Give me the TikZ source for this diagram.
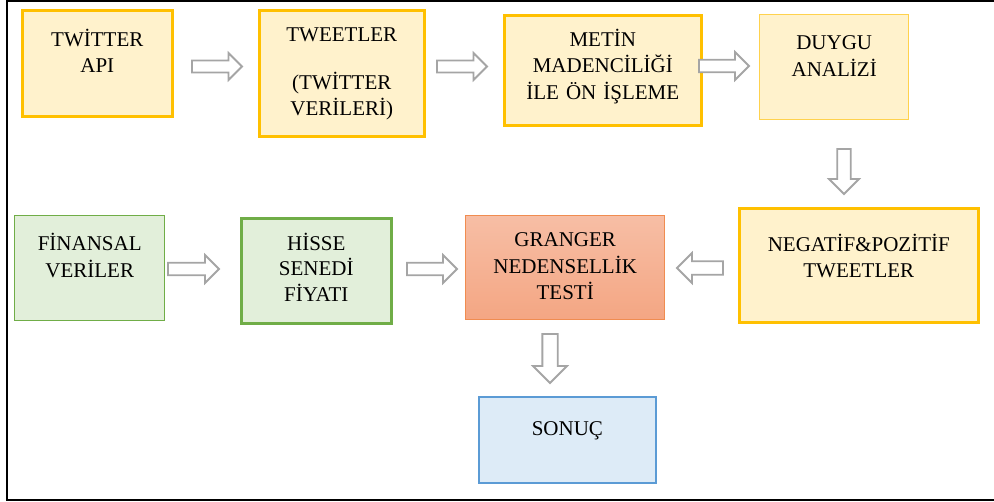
\documentclass[tikz,border=0pt]{standalone}
\usepackage{fontspec}
\setmainfont{Liberation Serif}
\definecolor{goldline}{HTML}{FFC000}
\definecolor{goldlight}{HTML}{FFD24D}
\definecolor{goldfill}{HTML}{FFF2CC}
\definecolor{greenline}{HTML}{70AD47}
\definecolor{greenfill}{HTML}{E2EFDA}
\definecolor{orangeline}{HTML}{F08C50}
\definecolor{orangetop}{HTML}{F7BEA5}
\definecolor{orangebot}{HTML}{F4A683}
\definecolor{blueline}{HTML}{5B9BD5}
\definecolor{bluefill}{HTML}{DDEBF7}
\definecolor{arrowgray}{HTML}{A5A5A5}
\tikzset{
  box/.style={draw, inner sep=0pt, align=center, anchor=north west,
    font=\fontsize{21}{26.5}\selectfont},
  bx/.style n args={3}{text width=#1pt, minimum width=#1pt, text height=#3pt, text depth=#2pt-#3pt},
  yellowbox/.style={box, draw=goldline, fill=goldfill},
  greenbox/.style={box, draw=greenline, fill=greenfill},
  thickline/.style={line width=2.6pt},
  thinline/.style={line width=1.4pt},
  arrowline/.style={draw=arrowgray, fill=white, line width=1.8pt, line join=miter},
  pics/barrow/.style n args={2}{code={
    \path[arrowline] ({-#1/2},{-0.225*#2}) -- ({#1/2-0.5*#2},{-0.225*#2})
      -- ({#1/2-0.5*#2},{-#2/2}) -- ({#1/2},0) -- ({#1/2-0.5*#2},{#2/2})
      -- ({#1/2-0.5*#2},{0.225*#2}) -- ({-#1/2},{0.225*#2}) -- cycle;
  }}
}
\begin{document}
\begin{tikzpicture}[x=1pt,y=-1pt]
\useasboundingbox (0,0) rectangle (994,502);
% frame
\draw[line width=2pt] (1000,1) -- (7,1) -- (7,499.7) -- (1000,499.7);
% row 1
\node[yellowbox, thickline, bx={150}{106}{36}] (api) at (21,9) {TWİTTER\\API};
\node[yellowbox, thickline, bx={165}{126}{31}] (tweet) at (258,9) {TWEETLER\\[21.5pt](TWİTTER\\VERİLERİ)};
\node[yellowbox, thickline, bx={197}{110}{31}] (metin) at (503,14) {METİN\\MADENCİLİĞİ\\İLE ÖN İŞLEME};
\node[box, draw=goldlight, fill=goldfill, thinline, bx={149}{105}{35}] (duygu) at (759,14) {DUYGU\\ANALİZİ};
% row 2
\node[greenbox, thinline, bx={150}{105}{35}] (fin) at (14,215) {FİNANSAL\\VERİLER};
\node[greenbox, thickline, bx={150}{105}{32}, font=\fontsize{21}{25.5}\selectfont] (hisse) at (240,217) {HİSSE\\SENEDİ\\FİYATI};
\node[box, draw=orangeline, top color=orangetop, bottom color=orangebot, thinline, bx={199}{104}{31}] (granger) at (465,215) {GRANGER\\NEDENSELLİK\\TESTİ};
\node[yellowbox, thickline, bx={239}{114}{43}] (neg) at (738,207) {NEGATİF\&POZİTİF\\TWEETLER};
% row 3
\node[box, draw=blueline, fill=bluefill, line width=1.8pt, bx={177}{86}{39}] (sonuc) at (478,396) {SONUÇ};
% block arrows
\pic at (217,66.5) {barrow={50}{27}};
\pic at (462,66.5) {barrow={50}{27}};
\pic at (724,66) {barrow={50}{28}};
\pic[rotate=-90] at (844,171.5) {barrow={45}{30}};
\pic at (193.5,269) {barrow={51}{28}};
\pic at (432,269) {barrow={50}{28}};
\pic[rotate=180] at (700,268) {barrow={46}{30}};
\pic[rotate=-90] at (550,358.5) {barrow={49}{34}};
\end{tikzpicture}
\end{document}
